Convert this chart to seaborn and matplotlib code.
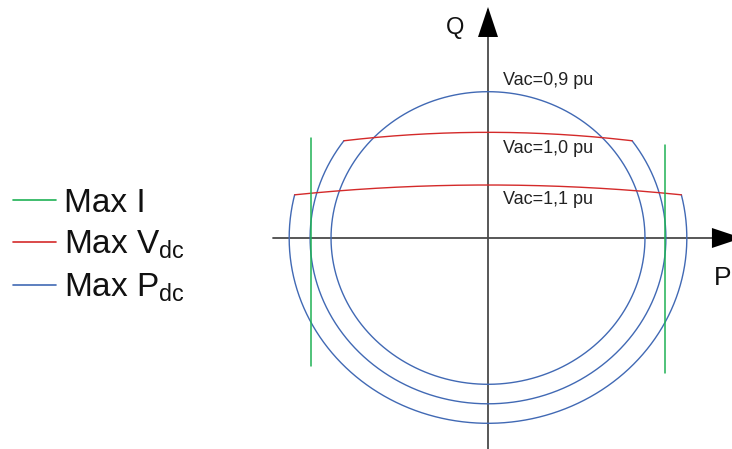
import numpy as np
import pandas as pd
import matplotlib
matplotlib.use("Agg")
import matplotlib.pyplot as plt
from matplotlib.lines import Line2D
import seaborn as sns

# Converter capability curves in the P-Q plane (per unit)
vac_labels = ["Vac=0,9 pu", "Vac=1,0 pu", "Vac=1,1 pu"]
label_q = [0.967, 0.553, 0.234]          # vertical position of each Vac label
pdc_radius = [0.90, 1.02, 1.14]          # Max Pdc circle radius for each Vac
vdc_top_q = [None, 0.65, 0.326]          # Max Vdc limit: Q at P = 0
vdc_arc_radius = [None, 6.6, 10.2]       # Max Vdc limit: arc radius
imax_p = [-1.017, 1.015]                 # Max I vertical limits (P)
imax_q_top = [0.613, 0.572]
imax_q_bottom = [-0.785, -0.832]

legend_labels = ["Max I", "Max V$_{dc}$", "Max P$_{dc}$"]

C_I = "#1fb255"
C_V = "#d42a2a"
C_P = "#4169b4"
C_AX = "#4a4a4a"

sns.set_style("white")
plt.rcParams["font.family"] = ["Liberation Sans", "DejaVu Sans"]
plt.rcParams["mathtext.default"] = "regular"

fig = plt.figure(figsize=(7.32, 4.49), dpi=100)
ax = fig.add_axes([0, 0, 1, 1])
ax.set_xlim(-2.798, 1.399)
ax.set_ylim(-1.298, 1.464)
ax.axis("off")

# P and Q axes with arrowheads
ax.plot([-1.233, 1.40], [0, 0], color=C_AX, lw=1.3, zorder=1)
ax.plot([0, 0], [-1.30, 1.40], color=C_AX, lw=1.3, zorder=1)
ax.annotate("", xy=(1.456, 0), xytext=(1.28, 0), annotation_clip=False,
            arrowprops=dict(arrowstyle="-|>,head_length=2.16,head_width=0.72",
                            color="black", lw=0, shrinkA=0, shrinkB=0))
ax.annotate("", xy=(0, 1.421), xytext=(0, 1.25), annotation_clip=False,
            arrowprops=dict(arrowstyle="-|>,head_length=2.16,head_width=0.72",
                            color="black", lw=0, shrinkA=0, shrinkB=0))
ax.text(-0.189, 1.291, "Q", fontsize=17, ha="center", va="center", color="#111")
ax.text(1.296, -0.246, "P", fontsize=19, ha="left", va="center", color="#111")


def line(x, y, color, lw=1.0):
    sns.lineplot(x=np.asarray(x), y=np.asarray(y), sort=False, estimator=None,
                 color=color, lw=lw, ax=ax, zorder=3)


for r, qtop, R in zip(pdc_radius, vdc_top_q, vdc_arc_radius):
    if qtop is None:
        th = np.linspace(0, 2 * np.pi, 720)
        line(r * np.cos(th), r * np.sin(th), C_P)
        continue
    c = R - qtop
    # intersection of the Pdc circle with the Vdc arc
    p = np.linspace(0, r, 20001)
    diff = np.sqrt(r ** 2 - p ** 2) - (np.sqrt(R ** 2 - p ** 2) - c)
    pi = p[np.argmin(np.abs(diff))]
    qi = np.sqrt(r ** 2 - pi ** 2)
    a0 = np.arctan2(qi, pi)
    th = np.linspace(a0, np.pi - a0 - 2 * np.pi, 720)
    line(r * np.cos(th), r * np.sin(th), C_P)
    pp = np.linspace(-pi, pi, 400)
    line(pp, np.sqrt(R ** 2 - pp ** 2) - c, C_V)

for p, qt, qb in zip(imax_p, imax_q_top, imax_q_bottom):
    line([p, p], [qt, qb], C_I, lw=1.1)

for txt, q in zip(vac_labels, label_q):
    ax.text(0.086, q, txt, fontsize=13, ha="left", va="center", color="#222")

handles = [Line2D([], [], color=c, lw=1.2) for c in (C_I, C_V, C_P)]
leg = ax.legend(handles, legend_labels, loc="upper left",
                bbox_to_anchor=(13 / 732, 1 - 188 / 449), fontsize=24,
                frameon=False, handlelength=1.3, handletextpad=0.22,
                labelspacing=0.3, borderpad=0, borderaxespad=0)
for t in leg.get_texts():
    t.set_color("#111")

fig.savefig("out.png", dpi=100)
